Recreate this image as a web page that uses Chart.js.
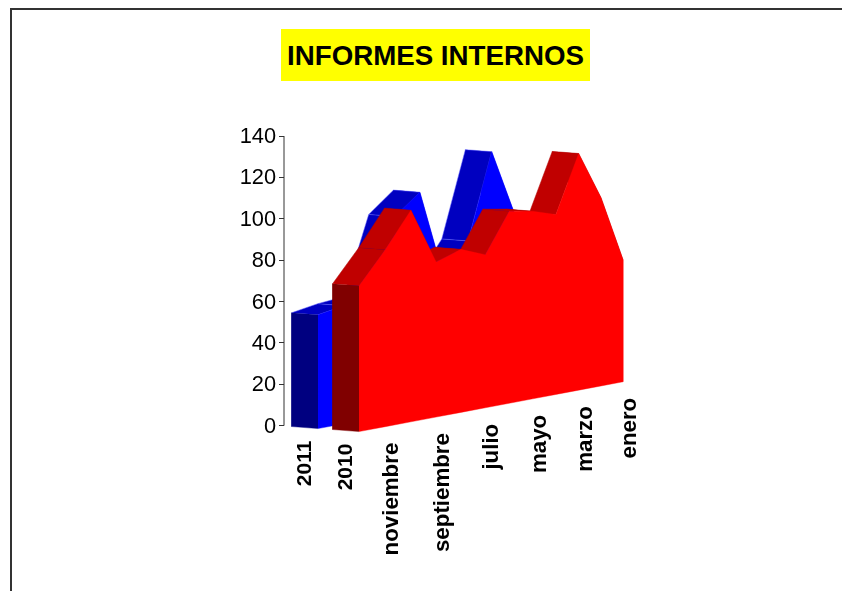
<!DOCTYPE html>
<html>
<head>
<meta charset="utf-8">
<script src="https://cdn.jsdelivr.net/npm/chart.js@4"></script>
<style>
    html, body { margin:0; padding:0; background:#fff; overflow:hidden; }
    #wrap { position:relative; width:842px; height:591px; }
    #c { position:absolute; left:0; top:0; }
    #frame { position:absolute; left:10px; top:8px; right:-4px; bottom:-4px; border:2px solid #333; }
    #title { position:absolute; left:281px; top:29px; width:309px; height:52px; line-height:53px;
             background:#ff0; color:#000; text-align:center; white-space:nowrap;
             font:bold 27.7px/53px "Liberation Sans", Arial, sans-serif; }
</style>
</head>
<body>
<div id="wrap">
    <div id="frame"></div>
    <canvas id="c" width="842" height="591"></canvas>
    <div id="title">INFORMES INTERNOS</div>
</div>
<script>
const yTicks = [0, 20, 40, 60, 80, 100, 120, 140];
const seriesNames = ['2011', '2010'];
const months = ['diciembre','noviembre','octubre','septiembre','agosto','julio','junio','mayo','abril','marzo','febrero','enero'];
const shownMonths = ['noviembre','septiembre','julio','mayo','marzo','enero'];

// diciembre first (depth axis runs backwards)
const values2011 = [55, 57, 58, 95.5, 105, 61, 77, 118, 85.5, 80, 76, 60];
const values2010 = [70.5, 85.5, 102.3, 75, 78.8, 74, 92.8, 90.7, 87, 114.4, 91, 59];

/* ── Projection, in axis units ── */
const FALLOFF = 0.1;     // months get narrower further back
const SPAN = 11;         // x units from diciembre to enero
const SKEW = 2.19;       // floor rises this much per x unit
const DEPTH_X = 1.1;     // ribbon depth
const DEPTH_Y = 1;
const STYLE_2011 = { x0:1.417, floor:-1.45, front:'#0000ff', top:'#0000c0', wall:'#000080', edge:'#5a5aff' };
const STYLE_2010 = { x0:3.125, floor:-2.9,  front:'#ff0000', top:'#c00000', wall:'#800000', edge:'#b00000' };

function monthX(s, i) {
    const t = i / (months.length - 1);
    return s.x0 + SPAN * t * (1 + FALLOFF) / (1 + FALLOFF * t);
}
function floorY(s, x) {
    return s.floor + SKEW * (x - s.x0);
}
function topPoint(s, vals, i) {
    const x = monthX(s, i);
    return { x, y: floorY(s, x) + vals[i] };
}
function back(p) {
    return { x: p.x - DEPTH_X, y: p.y + DEPTH_Y };
}

function shape(points, color, edge) {
    return {
        type: 'scatter', showLine: true, data: points, fill: 'shape',
        backgroundColor: color, borderColor: edge || color, borderWidth: edge ? 0.5 : 0.4,
        pointRadius: 0, clip: false, tension: 0
    };
}

function seriesShapes(s, vals) {
    const tops = vals.map((_, i) => topPoint(s, vals, i));
    const floors = tops.map(p => ({ x: p.x, y: floorY(s, p.x) }));
    const out = [shape(tops.concat(floors.slice().reverse()), s.front)];
    for (let i = 0; i < tops.length - 1; i++) {
        out.push(shape([tops[i], tops[i + 1], back(tops[i + 1]), back(tops[i])], s.top, s.edge));
    }
    out.push(shape([tops[0], back(tops[0]), back(floors[0]), floors[0]], s.wall));
    return out;
}

// first dataset ends up on top
const datasets = seriesShapes(STYLE_2010, values2010).concat(seriesShapes(STYLE_2011, values2011));
datasets.push({
    type: 'scatter', showLine: true, data: [{ x:0, y:0 }, { x:0, y:140 }],
    borderColor: '#333', borderWidth: 1, pointRadius: 0, clip: false
});

/* ── Labels under the floor ── */
const floorLabels = {
    id: 'floorLabels',
    afterDraw(chart) {
        const { ctx, scales: { x, y } } = chart;
        const put = (text, px, py, size) => {
            ctx.save();
            ctx.translate(px, py);
            ctx.rotate(-Math.PI / 2);
            ctx.font = 'bold ' + size + 'px "Liberation Sans", Arial, sans-serif';
            ctx.fillStyle = '#000';
            ctx.textAlign = 'right';
            ctx.textBaseline = 'middle';
            ctx.fillText(text, 0, 0);
            ctx.restore();
        };
        shownMonths.forEach(m => {
            const mx = monthX(STYLE_2010, months.indexOf(m));
            put(m, x.getPixelForValue(mx) + 7, y.getPixelForValue(floorY(STYLE_2010, mx)) + 16, 22.3);
        });
        [STYLE_2011, STYLE_2010].forEach((s, i) => {
            const mx = s.x0 - DEPTH_X / 2;
            put(seriesNames[i], x.getPixelForValue(mx), y.getPixelForValue(floorY(s, s.x0)) + 12, 21);
        });
    }
};

new Chart(document.getElementById('c'), {
    type: 'scatter',
    data: { datasets },
    plugins: [floorLabels],
    options: {
        responsive: false,
        animation: false,
        events: [],
        layout: { padding: { top: 136, bottom: 124, right: 198, left: 0 } },
        plugins: { legend: { display: false }, tooltip: { enabled: false } },
        scales: {
            x: { type: 'linear', display: false, min: 0, max: 15 },
            y: {
                min: -20, max: 140,
                afterFit(s) { s.width = 284; },
                border: { display: false },
                grid: {
                    drawOnChartArea: false, tickLength: 5, tickWidth: 1,
                    tickColor: c => yTicks.includes(c.tick.value) ? '#333' : 'transparent'
                },
                ticks: {
                    stepSize: 20, padding: 3, color: '#000', labelOffset: 1,
                    font: { family: '"Liberation Sans", Arial, sans-serif', size: 21.8 },
                    callback: v => yTicks.includes(v) ? v : ''
                }
            }
        }
    }
});
</script>
</body>
</html>
